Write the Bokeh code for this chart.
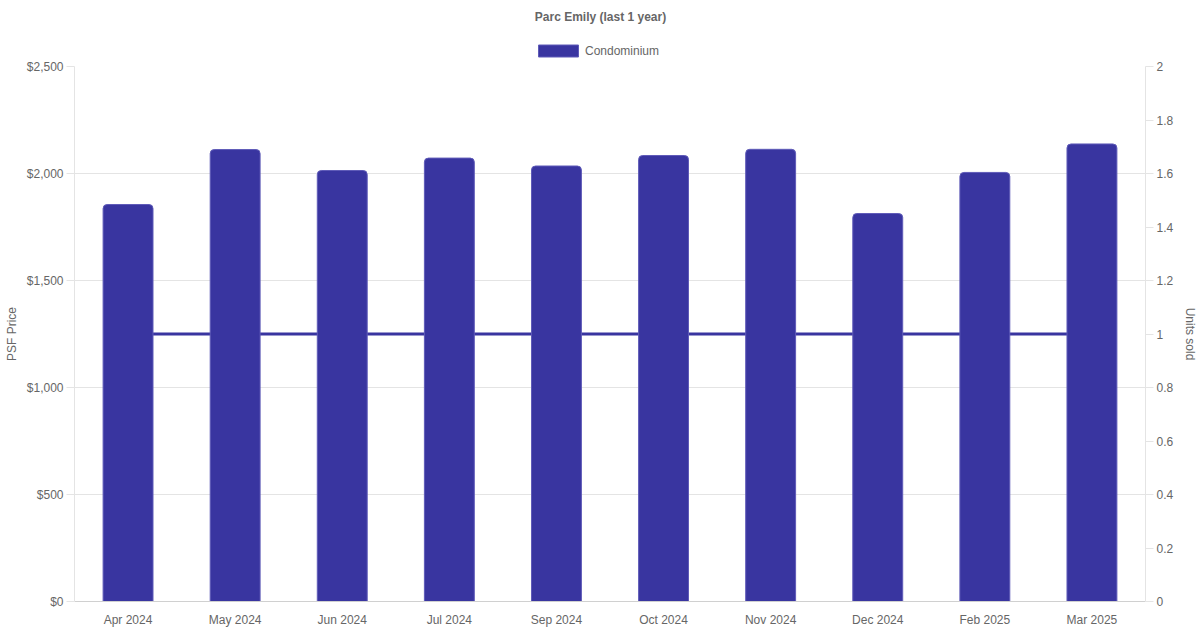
from bokeh.plotting import figure
from bokeh.models import Range1d, LinearAxis, FactorRange, Legend, LegendItem, NumeralTickFormatter, FixedTicker, Label
from bokeh.layouts import column
from bokeh.embed import file_html
from bokeh.resources import INLINE

months = ["Apr 2024", "May 2024", "Jun 2024", "Jul 2024", "Sep 2024",
          "Oct 2024", "Nov 2024", "Dec 2024", "Feb 2025", "Mar 2025"]
psf_price = [1855, 2112, 2014, 2072, 2035, 2084, 2113, 1813, 2005, 2138]
units_sold = [1, 1, 1, 1, 1, 1, 1, 1, 1, 1]
series_name = "Condominium"
chart_title = "Parc Emily (last 1 year)"

FONT = "Liberation Sans"
TXT = "#666666"
GRID = "#e4e4e4"
BAR = "#3935a0"
BAR_EDGE = "#5f5bb8"

# ---- header: title + legend (its frame is aligned with the main frame) ----
hdr = figure(width=1200, height=58, x_range=FactorRange(*months), y_range=Range1d(5000, 6000),
             x_axis_type=None, y_axis_type=None, output_backend="svg", toolbar_location=None,
             min_border_left=0, min_border_right=0, min_border_top=0, min_border_bottom=0)
hdr.outline_line_color = None
hdr.xgrid.visible = False
hdr.ygrid.visible = False
# same bars, kept out of this strip's view: only used as the legend's swatch
swatch = hdr.vbar(x=months, top=psf_price, width=0.466, fill_color=BAR,
                  line_color=BAR_EDGE, line_width=1)
hdr.add_layout(Label(x=526, y=42, x_units="screen", y_units="screen", text=chart_title,
                     text_align="center", text_baseline="middle", text_font=FONT,
                     text_font_size="12px", text_font_style="bold", text_color=TXT))
leg = Legend(items=[LegendItem(label=series_name, renderers=[swatch])],
             location=(459, 0), orientation="horizontal",
             glyph_width=50, glyph_height=15, label_height=15, label_standoff=2,
             padding=0, margin=0, spacing=0, border_line_color=None,
             background_fill_alpha=0, label_text_font=FONT,
             label_text_font_size="12px", label_text_color=TXT)
hdr.add_layout(leg, "center")

# ---- main chart ----
p = figure(width=1200, height=572, x_range=FactorRange(*months),
           y_range=Range1d(0, 2500), output_backend="svg", toolbar_location=None,
           min_border_left=74, min_border_right=53, min_border_top=8, min_border_bottom=29)
p.extra_y_ranges = {"units": Range1d(0, 2)}
p.outline_line_color = None
p.background_fill_color = "white"

p.line(months, units_sold, y_range_name="units", line_color=BAR, line_width=3)
p.vbar(x=months, top=psf_price, width=0.466, fill_color=BAR,
       line_color=BAR_EDGE, line_width=1, border_radius=(4, 4, 0, 0))

p.xgrid.visible = False
p.ygrid.grid_line_color = GRID
p.ygrid.ticker = FixedTicker(ticks=[0, 500, 1000, 1500, 2000, 2500])

ax = p.yaxis[0]
ax.ticker = FixedTicker(ticks=[0, 500, 1000, 1500, 2000, 2500])
ax.formatter = NumeralTickFormatter(format="$0,0")
ax.axis_label = "PSF Price"

xa = p.xaxis[0]

ra = LinearAxis(y_range_name="units", axis_label="Units sold",
                ticker=FixedTicker(ticks=[0, 0.2, 0.4, 0.6, 0.8, 1, 1.2, 1.4, 1.6, 1.8, 2]))
p.add_layout(ra, "right")

for a in [ax, xa, ra]:
    a.axis_line_color = "#d0d0d0"
    a.major_tick_line_color = GRID
    a.minor_tick_line_color = None
    a.major_tick_in = 0
    a.major_tick_out = 8
    a.major_label_text_font = FONT
    a.major_label_text_font_size = "12px"
    a.major_label_text_color = TXT
    a.axis_label_text_font = FONT
    a.axis_label_text_font_size = "12px"
    a.axis_label_text_color = TXT
    a.axis_label_text_font_style = "normal"
    a.axis_label_standoff = 7
xa.major_tick_out = 0
xa.major_label_standoff = 11
ax.axis_line_color = GRID
ra.axis_line_color = GRID
ax.major_label_standoff = 3
ra.major_label_standoff = 3
ax.axis_label_standoff = 5

layout = column(hdr, p, spacing=0)
open("out.html", "w").write(file_html(layout, INLINE))
